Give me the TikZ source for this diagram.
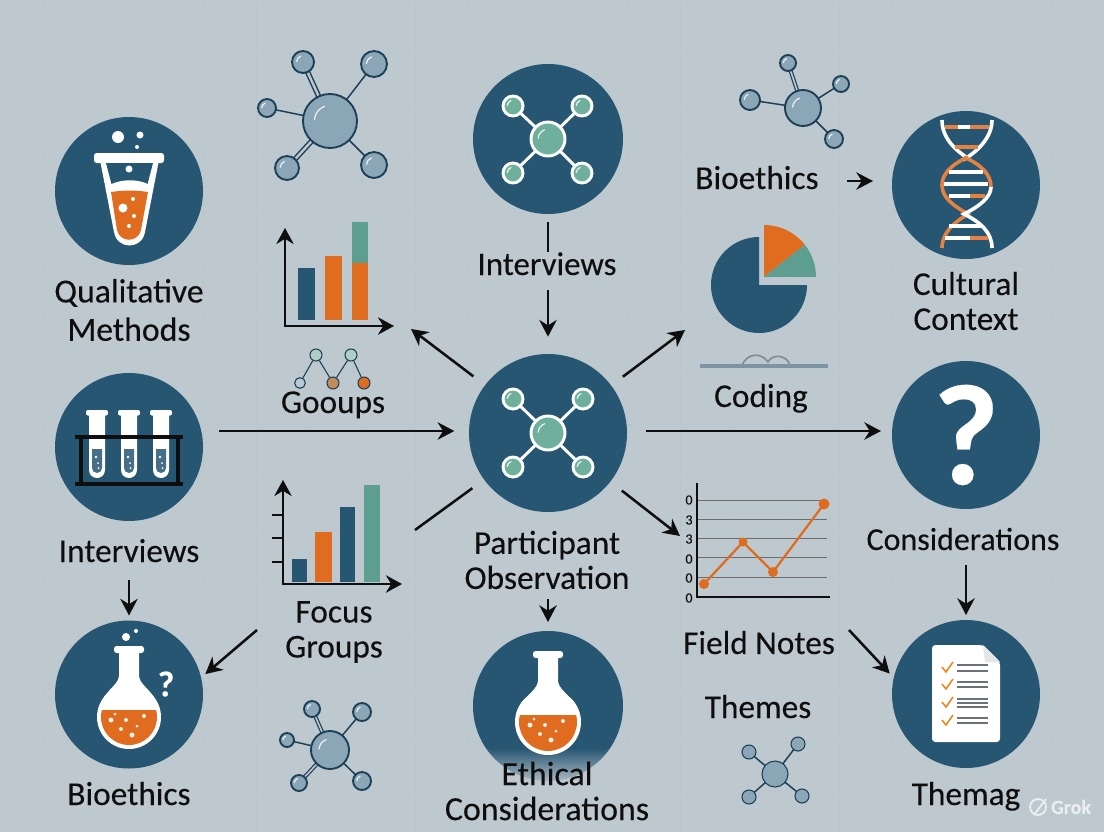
\documentclass[tikz,border=0pt]{standalone}
\usepackage{fontspec}
\setmainfont[FakeBold=.15]{Carlito}
\usetikzlibrary{arrows.meta,fadings}
\definecolor{paper}{HTML}{BDC8CF}
\definecolor{gridline}{HTML}{BAC5CC}
\definecolor{navy}{HTML}{275672}
\definecolor{rust}{HTML}{E06C1F}
\definecolor{sage}{HTML}{5E9E90}
\definecolor{mint}{HTML}{6FB09C}
\definecolor{steel}{HTML}{8AA6B7}
\definecolor{ink}{HTML}{1C3F55}
\definecolor{pen}{HTML}{0E0E0E}
\tikzset{
  disc/.style={circle,fill=navy,inner sep=0pt,minimum size=111pt,outer sep=3.75pt},
  hubdisc/.style={disc,minimum size=118.5pt,outer sep=11pt},
  lbl/.style={font=\fontsize{25}{26.25}\selectfont,text=pen,align=center,inner sep=0pt},
  lblbase/.style={lbl,anchor=base},
  arr/.style={draw=pen,line width=1.9pt,-{Stealth[length=12.5pt,width=13pt]}},
  wire/.style={draw=pen,line width=1.9pt},
  axis/.style={draw=pen,line width=2.2pt,{Stealth[length=12pt,width=13pt]}-{Stealth[length=12pt,width=13pt]}},
  bond/.style={draw=ink,line width=1.1pt},
  atomstyle/.style={draw=ink,fill=steel,line width=1.4pt},
  glint/.style={draw=white!85!steel,line width=.9pt,line cap=round},
  netatom/.style={draw=white,fill=mint,line width=2.2pt},
  netbond/.style={draw=white,line width=2.2pt},
  rung/.style={line width=2.6pt},
  strand/.style={line width=2.7pt},
  tick/.style={font=\fontsize{10.5}{11}\selectfont,text=pen,inner sep=0pt},
  gdot/.style={circle,draw=ink,line width=.8pt,inner sep=0pt,minimum size=9pt},
  gridrule/.style={draw=gridline,line width=.4pt},
  chartrule/.style={draw=gray!85!black,line width=.7pt}
}
\newcommand\atomat[4][atomstyle]{
\draw[#1] (#2,#3) circle[radius=#4];
\draw[glint] ({#2+.58*#4*cos(185)},{#3+.58*#4*sin(185)}) arc[start angle=185,end angle=250,radius={.58*#4}];
}
\newcommand\roundflask[3]{
\begin{scope}[shift={(#1,#2)}]
\fill[white,rounded corners=2pt] (-15,-71) rectangle (15,-64);
\fill[white] (-10,-66) -- (10,-66) -- (10,-42) .. controls (10,-34) and (18,-30) .. (25,-20) -- (-25,-20) .. controls (-18,-30) and (-10,-34) .. (-10,-42) -- cycle;
\fill[white] (0,0) circle[radius=#3];
\begin{scope}
\clip (0,0) circle[radius={#3-4}];
\fill[rust] (-40,-7) -- (40,-7) -- (40,40) -- (-40,40) -- cycle;
\end{scope}
\fill[white!90!rust] (-18,3) circle[radius=2.5];
\fill[white!90!rust] (-3,3) circle[radius=2];
\fill[white!90!rust] (15,-1) circle[radius=2];
\fill[white!90!rust] (-8,12) circle[radius=2];
\fill[white!90!rust] (8,9) circle[radius=1.5];
\fill[white!90!rust] (3,18) circle[radius=2.5];
\fill[white!90!rust] (-14,-3) circle[radius=1.5];
\end{scope}
}
\begin{document}
\begin{tikzpicture}[x=.75pt,y=-.75pt]
\useasboundingbox (0,0) rectangle (1104,832);
\fill[paper] (0,0) rectangle (1104,832);
\foreach \x in {44,97,...,1104} {\draw[gridrule] (\x,0) -- (\x,832);}
\foreach \y in {0,53,...,832} {\draw[gridrule] (0,\y) -- (1104,\y);}

\node[disc] (cQual) at (129,191) {};
\node[disc] (cTubes) at (129,447) {};
\node[disc] (cFlask) at (129,694.5) {};
\node[disc,minimum size=112.5pt,outer sep=6pt] (cTop) at (548,139) {};
\node[hubdisc] (hub) at (548,433) {};
\node[disc,minimum size=112.5pt] (cEthic) at (548,706) {};
\node[disc] (cDna) at (966,185) {};
\node[disc,outer sep=8pt] (cAsk) at (966,435) {};
\node[disc] (cThem) at (966,694) {};
\fill[paper,path fading=north] (460,748) rectangle (636,786);

\fill[white] (118,137) circle[radius=6];
\fill[white] (140,135) circle[radius=3.5];
\fill[white] (137,147) circle[radius=2];
\fill[white,rounded corners=2pt] (94,153) rectangle (164,163);
\fill[white] (100,160) -- (159,160) -- (145,232) .. controls (142,250) and (117,250) .. (114,232) -- cycle;
\fill[navy] (106,163) -- (153,163) -- (147,186) -- (112,186) -- cycle;
\fill[white] (129,169) circle[radius=3.5];
\fill[white] (106,187) .. controls (120,178) and (140,178) .. (153,187) -- (148,196) -- (111,196) -- cycle;
\fill[rust] (111,192) .. controls (125,190) and (135,190) .. (148,192) -- (141,230) .. controls (138,243) and (120,243) .. (117,230) -- cycle;
\fill[white] (123,208) circle[radius=4.5];
\fill[white] (133,199) circle[radius=2];
\fill[white] (134,216) circle[radius=2];
\fill[white] (129,226) circle[radius=2];

\foreach \x in {97,129,161} {
\fill[white,rounded corners=1.5pt] ({\x-11},410) rectangle ({\x+11},415.5);
\fill[white] ({\x-8},414) -- ({\x+8},414) -- ({\x+8},470) arc[start angle=0,end angle=180,radius=8] -- cycle;
\fill[navy!85!white] ({\x-5},449) -- ({\x+5},449) -- ({\x+5},468) arc[start angle=0,end angle=180,radius=5] -- cycle;
\fill[white] ({\x-1},457) circle[radius=1.3];
\fill[white] ({\x+1},463) circle[radius=1];
\fill[white] ({\x+1.5},468) circle[radius=1];
}
\draw[pen,line width=2.3pt] (75,437) -- (183,437);
\draw[pen,line width=2.3pt] (75,484) -- (183,484);
\draw[pen,line width=2.3pt] (81,437) -- (81,484);
\draw[pen,line width=2.3pt] (178,437) -- (178,484);

\roundflask{129}{717}{32}
\node[font=\fontsize{27}{27}\selectfont\bfseries,text=white,inner sep=0pt] (qFlask) at (166,684) {?};
\fill[white] (126,637) circle[radius=4];
\fill[white] (136,631) circle[radius=2];
\roundflask{548}{722}{33}

\foreach \x/\y in {513/106,582/106,513/173,582/173} {\draw[netbond] (548,139) -- (\x,\y);}
\foreach \x/\y in {513/106,582/106,513/173,582/173} {\atomat[netatom]{\x}{\y}{10}}
\atomat[netatom]{548}{139}{17}
\foreach \x/\y in {513/399,583/399,513/467,583/467} {\draw[netbond] (548,433) -- (\x,\y);}
\foreach \x/\y in {513/399,583/399,513/467,583/467} {\atomat[netatom]{\x}{\y}{10}}
\atomat[netatom]{548}{433}{17}

\draw[white,strand] (942,120) .. controls (942,138) and (955,150) .. (969,159);
\draw[white,strand] (992,120) .. controls (992,136) and (980,150) .. (963,160);
\draw[rust!85!white,strand] (968,157) .. controls (950,165) and (942,175) .. (942,185) .. controls (942,197) and (952,205) .. (968,214) .. controls (955,222) and (942,232) .. (942,248);
\draw[rust!85!white,strand] (964,157) .. controls (982,165) and (991,175) .. (991,187);
\draw[white,strand] (991,187) .. controls (991,197) and (980,206) .. (964,214) .. controls (980,222) and (992,232) .. (992,248);
\draw[rust!85!white,rung] (945,127) -- (989,127);
\draw[white,rung] (958,127) -- (970,127);
\draw[rust!85!white,rung] (955,147) -- (978,147);
\draw[white,rung] (949,172) -- (983,172);
\draw[white,rung] (944,184) -- (988,184);
\draw[white,rung] (949,196) -- (970,196);
\draw[rust!85!white,rung] (970,196) -- (985,196);
\draw[white,rung] (949,226) -- (983,226);
\draw[white,rung] (945,238) -- (970,238);
\draw[rust!85!white,rung] (970,238) -- (988,238);

\node[font=\fontsize{108}{108}\selectfont\bfseries,text=white,inner sep=0pt] (qBig) at (966,435) {?};

\fill[white,rounded corners=2.5pt] (932,645) -- (983,645) -- (1000,662) -- (1000,742) -- (932,742) -- cycle;
\fill[gray!20!white] (983,645) -- (1000,662) -- (985,662) -- cycle;
\foreach \y in {667,684,702,720} {
\draw[orange!80!brown,line width=1.1pt] (942,\y) -- (946,{\y+5}) -- (953,{\y-5});
}
\foreach \y in {665,671,682,687,699,703,707,718,723} {\draw[gray!80!ink,line width=.9pt] (957,\y) -- (988,\y);}

\draw[bond] (330,121) -- (374,64);
\draw[bond] (330,121) -- (267,108);
\draw[bond] (330,121) -- (374,165);
\draw[ink,line width=4pt] (330,121) -- (303,62);
\draw[paper,line width=1.8pt] (330,121) -- (303,62);
\draw[ink,line width=4pt] (330,121) -- (287,168);
\draw[paper,line width=1.8pt] (330,121) -- (287,168);
\foreach \x/\y/\r in {303/62/11,374/64/13,267/108/9,287/168/12,374/165/13} {\atomat{\x}{\y}{\r}}
\atomat{330}{121}{27}

\draw[bond] (803,108) -- (841,84);
\draw[bond] (803,108) -- (750,100);
\draw[bond] (803,108) -- (834,139);
\draw[ink,line width=3pt] (803,108) -- (788,63);
\draw[paper,line width=1.2pt] (803,108) -- (788,63);
\foreach \x/\y/\r in {788/63/8,841/84/8,750/100/10,834/139/9} {\atomat{\x}{\y}{\r}}
\atomat{803}{108}{18}

\draw[bond] (330,750) -- (362,712);
\draw[bond] (330,750) -- (287,740);
\draw[bond] (330,750) -- (362,781);
\draw[ink,line width=3pt] (330,750) -- (312,709);
\draw[paper,line width=1.2pt] (330,750) -- (312,709);
\draw[ink,line width=3pt] (330,750) -- (299,783);
\draw[paper,line width=1.2pt] (330,750) -- (299,783);
\foreach \x/\y/\r in {312/709/8,362/712/9,287/740/7,299/783/8,362/781/9} {\atomat{\x}{\y}{\r}}
\atomat{330}{750}{19}

\foreach \x/\y in {749/752,798/744,749/797,802/796} {\draw[bond] (775,774) -- (\x,\y);}
\foreach \x/\y in {749/752,798/744,749/797,802/796} {\draw[atomstyle,line width=.8pt] (\x,\y) circle[radius=7];}
\draw[atomstyle,line width=.8pt] (775,774) circle[radius=13];

\fill[navy] (298,268) rectangle (315,320);
\fill[rust] (325,256) rectangle (342,320);
\fill[rust] (352,263) rectangle (368,320);
\fill[sage] (352,222) rectangle (368,263);
\draw[axis] (285,228) -- (285,326) -- (394,326);

\fill[navy] (292,559) rectangle (307,582);
\fill[rust] (315,532) rectangle (332,582);
\fill[navy] (340,507) rectangle (355,582);
\fill[sage] (364,485) rectangle (380,582);
\draw[axis] (283,480) -- (283,584) -- (402,584);
\foreach \y in {515,538,562} {\draw[wire] (272,\y) -- (283,\y);}

\fill[navy] (759,285) -- (759,237) arc[start angle=-90,end angle=-360,radius=48] -- cycle;
\fill[rust] (764,277) -- (764,225) arc[start angle=-90,end angle=-38.5,radius=52] -- cycle;
\fill[sage] (764,277) -- (804.7,244.6) arc[start angle=-38.5,end angle=0,radius=52] -- cycle;

\draw[gray!70!steel,line width=1.2pt] (742,365) .. controls (748,352) and (762,353) .. (768,362) .. controls (772,354) and (786,354) .. (790,365);
\draw[steel!90!black,line width=2.4pt] (700,366) -- (828,366);

\foreach \y in {500,519,538,557,577} {\draw[chartrule] (697,\y) -- (827,\y);}
\draw[pen,line width=1.3pt] (697,483) -- (697,597) -- (830,597);
\foreach \i/\y/\t in {1/500/0,2/520/3,3/539/3,4/559/0,5/578/0,6/598/0} {\node[tick] (tick\i) at (689,\y) {\t};}
\draw[rust,line width=1.7pt] (704,584) -- (743,542) -- (773,572) -- (824,504);
\fill[rust] (704,584) circle[radius=5];
\fill[rust] (743,542) circle[radius=4.5];
\fill[rust] (773,572) circle[radius=5];
\fill[rust] (824,504) circle[radius=5.5];

\node[gdot,fill=sage!50!white] (gA) at (316,355) {};
\node[gdot,fill=sage!50!white] (gB) at (351,355) {};
\node[gdot,fill=steel!60!white,minimum size=8pt] (gC) at (300,383) {};
\node[gdot,fill=orange!45!gray!90!white] (gD) at (333,383) {};
\node[gdot,fill=rust] (gE) at (364,383) {};
\draw[ink,line width=.8pt] (gA) -- (gC);
\draw[ink,line width=.8pt] (gA) -- (gD);
\draw[ink,line width=.8pt] (gB) -- (gD);
\draw[ink,line width=.8pt] (gB) -- (gE);

\node[lbl,font=\fontsize{25.3}{26.25}\selectfont] (lQual) at (129,310) {Qualitative\\[2.5pt]Methods};
\node[lblbase] (lTube) at (129,562) {Interviews};
\node[lblbase] (lBioA) at (129,805) {Bioethics};
\node[lblbase] (lGoo) at (333,413) {Gooups};
\node[lbl] (lFocus) at (334,632) {Focus\\Groups};
\node[lblbase,font=\fontsize{24.7}{26.25}\selectfont] (lInt) at (547,275) {Interviews};
\node[lbl] (lPart) at (547,560) {Participant\\Observation};
\node[lbl,font=\fontsize{25.4}{26.25}\selectfont] (lEthic) at (547,791) {Ethical\\Considerations};
\node[lblbase] (lBioB) at (757,189) {Bioethics};
\node[lblbase] (lCode) at (761,407) {Coding};
\node[lbl] (lCult) at (966,301) {Cultural\\Context};
\node[lblbase,font=\fontsize{24}{26.25}\selectfont] (lCons) at (963,550) {Considerations};
\node[lblbase] (lField) at (759,654) {Field Notes};
\node[lblbase] (lThemes) at (758,718) {Themes};
\node[lblbase] (lThem) at (966,805) {Themag};

\coordinate (tubesOut) at (219,431);
\coordinate (barsIn) at (411,329);
\coordinate (pieIn) at (685,330);
\coordinate (chartIn) at (680,536);
\coordinate (barsStub) at (415,530);
\coordinate (focusOut) at (257,630);
\coordinate (fieldOut) at (849,630);
\coordinate (bioOut) at (847,181);
\coordinate (dnaIn) at (873,181);
\coordinate (askIn) at (881,431);

\draw[arr] (tubesOut) -- (tubesOut -| hub.west);
\draw[arr] (hub) -- (barsIn);
\draw[arr] (hub) -- (pieIn);
\draw[arr,shorten <=3pt] (askIn -| hub.east) -- (askIn);
\draw[arr] (hub) -- (chartIn);
\draw[wire] (hub) -- (barsStub);
\draw[arr] (focusOut) -- (cFlask.15);
\draw[arr,shorten <=13pt] (lTube.south) -- (cFlask.north);
\draw[arr,shorten <=7.5pt,shorten >=3pt] (cEthic.north |- lPart.south) -- (cEthic.north);
\draw[arr,shorten <=10.5pt] (lCons.south -| cThem.north) -- (cThem.north);
\draw[arr] (fieldOut) -- (cThem.165);
\draw[arr] (bioOut) -- (dnaIn);
\draw[wire] (cTop.south) -- (cTop.south |- lInt.north);
\draw[arr,shorten <=10.5pt,shorten >=2pt] (hub.north |- lInt.south) -- (hub.north);

\node[font=\fontsize{15}{15}\selectfont\bfseries,text=white!70!paper,inner sep=0pt] (lGrok) at (1071,807) {Grok};
\draw[white!70!paper,line width=1.4pt] (1038,807) circle[radius=8];
\draw[white!70!paper,line width=1.4pt] (1034,815) -- (1046,799);
\end{tikzpicture}
\end{document}
